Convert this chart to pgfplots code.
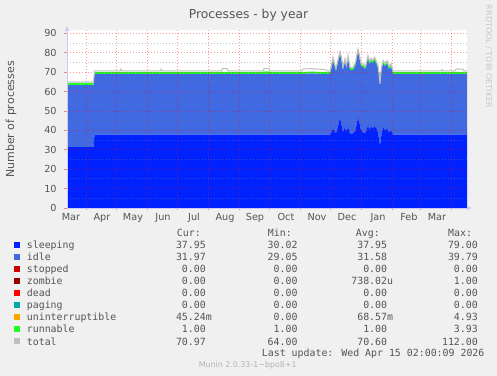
\documentclass[border=0pt]{standalone}
\usepackage{fontspec}
\setmainfont{DejaVu Sans}
\newfontfamily\monofont{DejaVu Sans Mono}
\usepackage{pgfplots}
\pgfplotsset{compat=1.18}
\usepackage{pgfplotstable}
\usetikzlibrary{arrows.meta}

\definecolor{bgc}{HTML}{F0F0F0}
\definecolor{txt}{HTML}{555555}
\definecolor{sleepc}{HTML}{0022FF}
\definecolor{idlec}{HTML}{4169E1}
\definecolor{stopc}{HTML}{CC0000}
\definecolor{zombc}{HTML}{990000}
\definecolor{deadc}{HTML}{FF0000}
\definecolor{pagec}{HTML}{00AAAA}
\definecolor{uninc}{HTML}{FFA500}
\definecolor{runc}{HTML}{22FF22}
\definecolor{totc}{HTML}{C0C0C0}
\definecolor{axc}{HTML}{C8CCF0}
\definecolor{wmc}{HTML}{C8C8C8}
\definecolor{footc}{HTML}{B4B4B4}

\newcommand{\tfont}{\fontsize{9.7bp}{11bp}\selectfont}
\newcommand{\lfont}{\monofont\fontsize{9.9bp}{11bp}\selectfont}

\pgfplotstableread{
x s i r t
0 31.3 32.0 1.0 64.8
26.5 31.3 32.0 1.0 64.8
27.5 37.8 31.3 1.0 70.6
53 37.8 31.3 1.0 70.6
54 37.8 31.3 1.0 71.6
55 37.8 31.3 1.0 70.6
93 37.8 31.3 1.0 70.6
94 37.8 31.3 1.0 71.5
95.5 37.8 31.3 1.0 70.6
154.5 37.8 31.3 1.0 70.6
155.5 37.8 31.3 1.0 71.8
160 37.8 31.3 1.0 71.8
161 37.8 31.3 1.0 70.6
196 37.8 31.3 1.0 70.6
197 37.8 31.3 1.3 71.8
202 37.8 31.3 1.3 71.8
203 37.8 31.3 1.0 70.6
235 37.8 31.3 1.0 70.6
236 37.8 31.3 1.0 71.6
245 37.8 31.5 1.0 71.8
253 37.8 31.3 1.0 71.5
258 37.8 31.3 1.0 71.4
260 37.8 31.3 1.0 70.6
263 37.8 31.3 1.0 70.6
264.5 39.0 33.0 1.0 73.6
266 41.0 35.0 1.0 77.6
267.5 39.5 33.5 1.0 74.6
269 38.5 32.0 1.0 72.1
271 42.0 33.0 1.0 76.6
273 47.0 32.0 1.0 80.6
274.5 43.0 33.0 1.0 77.6
276 39.0 32.0 1.0 72.6
278 41.8 33.5 1.0 76.9
279.5 39.0 33.0 1.0 73.6
281 42.0 35.0 1.0 78.6
283 38.5 32.5 1.0 72.6
286 38.5 32.5 1.0 72.6
288.5 40.0 33.5 1.0 75.1
291 47.0 33.4 1.0 82.0
292.5 44.0 33.0 1.0 78.6
294 40.0 33.0 1.0 74.6
296 39.0 33.7 1.0 74.3
298.5 38.5 33.0 1.0 73.1
301 42.7 34.3 1.0 78.6
302.5 40.0 34.0 1.0 75.6
304 42.0 33.5 1.0 77.1
305.5 41.0 33.5 1.0 76.1
307.5 42.0 34.0 1.0 77.6
309.5 41.0 33.0 1.0 75.6
311 39.0 33.0 1.0 73.6
313 32.4 35.0 1.0 64.0
314.5 38.0 33.0 1.0 72.6
316 41.8 32.6 1.0 76.0
318 40.0 33.0 1.0 74.6
320 41.0 33.4 1.0 76.0
322 39.0 32.5 1.0 73.1
324 40.0 32.7 1.0 74.3
326 37.8 31.3 1.0 70.6
374 37.8 31.3 1.0 70.6
375 37.8 31.3 1.0 71.3
376 37.8 31.3 1.0 70.6
388 37.8 31.3 1.0 70.6
389 37.8 31.3 1.0 71.5
396 37.8 31.3 1.0 71.5
397 37.8 31.3 1.0 70.6
400 37.9 31.3 1.0 70.6
}\data

\newcommand{\lrow}[7]{%
  \fill[#2] (14bp,#1bp+0.7bp) rectangle (20bp,#1bp+6.7bp);
  \node[anchor=base west, inner sep=0pt, text=txt] at (26.7bp,#1bp) {\lfont #3};
  \node[anchor=base east, inner sep=0pt, text=txt] at (206bp,#1bp) {\lfont #4};
  \node[anchor=base east, inner sep=0pt, text=txt] at (297.7bp,#1bp) {\lfont #5};
  \node[anchor=base east, inner sep=0pt, text=txt] at (387.3bp,#1bp) {\lfont #6};
  \node[anchor=base east, inner sep=0pt, text=txt] at (478bp,#1bp) {\lfont #7};
}

\begin{document}
\begin{tikzpicture}
\fill[bgc] (0,0) rectangle (497bp,376bp);

\begin{axis}[
  at={(67bp,168bp)}, anchor=south west,
  scale only axis, width=400bp, height=178bp,
  xmin=0, xmax=400, ymin=0, ymax=91.7,
  stack plots=y,
  axis on top,
  axis background/.style={fill=white},
  axis x line=bottom, axis y line=left,
  axis line style={draw=axc, line width=0.8bp},
  x axis line style={-{Latex[length=5bp,width=5bp]}, shorten >=-5bp},
  y axis line style={-{Latex[length=5bp,width=5bp]}, shorten >=-4bp},
  xtick={19,49,80,110,141,172,202,233,263,294,325,353,384},
  xticklabels={},
  extra x ticks={4,35,66,96,127,158,188,219,250,280,311,342,370},
  extra x tick labels={Mar,Apr,May,Jun,Jul,Aug,Sep,Oct,Nov,Dec,Jan,Feb,Mar},
  extra x tick style={grid=none, major tick length=0pt},
  ytick={0,10,...,90},
  minor ytick={5,15,...,85},
  xmajorgrids, ymajorgrids, yminorgrids,
  major grid style={draw=red, draw opacity=0.4, line width=0.8bp, dash pattern=on 1bp off 2bp},
  minor grid style={draw=gray, draw opacity=0.45, line width=0.8bp, dash pattern=on 1bp off 2bp},
  tick align=outside,
  major tick length=2.5bp, minor tick length=0pt,
  tick style={draw=red, draw opacity=0.45, line width=0.8bp},
  tick label style={text=txt, font=\tfont},
  /pgf/number format/assume math mode=true,
  xticklabel style={anchor=north, inner sep=0pt, text height=7bp, text depth=0pt, yshift=-5bp},
  yticklabel style={anchor=east, inner sep=0pt, xshift=-7.7bp},
]
\addplot[fill=sleepc, draw=none, mark=none] table[x=x,y=s]{\data} \closedcycle;
\addplot[fill=idlec, draw=none, mark=none] table[x=x,y=i]{\data} \closedcycle;
\addplot[fill=runc, draw=none, mark=none] table[x=x,y=r]{\data} \closedcycle;
\end{axis}

\begin{axis}[
  at={(67bp,168bp)}, anchor=south west,
  scale only axis, width=400bp, height=178bp,
  xmin=0, xmax=400, ymin=0, ymax=91.7,
  hide axis,
]
\addplot[draw=totc, line width=1bp, mark=none] table[x=x,y=t]{\data};
\end{axis}

% title, axis label, watermark
\node[anchor=base, inner sep=0pt, text=txt] at (248.5bp,357.7bp) {\fontsize{12.3bp}{14bp}\selectfont Processes - by year};
\node[rotate=90, anchor=center, inner sep=0pt, text=txt] at (11bp,256.5bp) {\fontsize{11bp}{13bp}\selectfont Number of processes};
\node[rotate=-90, anchor=center, inner sep=0pt, text=wmc] at (488.7bp,319.5bp) {\fontsize{8bp}{9bp}\selectfont RRDTOOL / TOBI OETIKER};

% legend table
\node[anchor=base west, inner sep=0pt, text=txt] at (176.7bp,139.3bp) {\lfont Cur:};
\node[anchor=base west, inner sep=0pt, text=txt] at (267.7bp,139.3bp) {\lfont Min:};
\node[anchor=base west, inner sep=0pt, text=txt] at (355.7bp,139.3bp) {\lfont Avg:};
\node[anchor=base west, inner sep=0pt, text=txt] at (448bp,139.3bp) {\lfont Max:};
\lrow{127}{sleepc}{sleeping}{37.95}{30.02}{37.95}{79.00}
\lrow{115}{idlec}{idle}{31.97}{29.05}{31.58}{39.79}
\lrow{103}{stopc}{stopped}{0.00}{0.00}{0.00}{0.00}
\lrow{91}{zombc}{zombie}{0.00}{0.00}{738.02\rlap{u}}{1.00}
\lrow{79}{deadc}{dead}{0.00}{0.00}{0.00}{0.00}
\lrow{67}{pagec}{paging}{0.00}{0.00}{0.00}{0.00}
\lrow{55}{uninc}{uninterruptible}{45.24\rlap{m}}{0.00}{68.57\rlap{m}}{4.93}
\lrow{43}{runc}{runnable}{1.00}{1.00}{1.00}{3.93}
\lrow{31}{totc}{total}{70.97}{64.00}{70.60}{112.00}
\node[anchor=base west, inner sep=0pt, text=txt] at (261.7bp,19.3bp) {\lfont Last update: Wed Apr 15 02:00:09 2026};
\node[anchor=base, inner sep=0pt, text=footc] at (247.7bp,8.3bp) {\fontsize{7.9bp}{9bp}\selectfont Munin 2.0.33-1\textasciitilde bpo8+1};

\pgfresetboundingbox
\useasboundingbox (0,0) rectangle (497bp,376bp);
\end{tikzpicture}
\end{document}
